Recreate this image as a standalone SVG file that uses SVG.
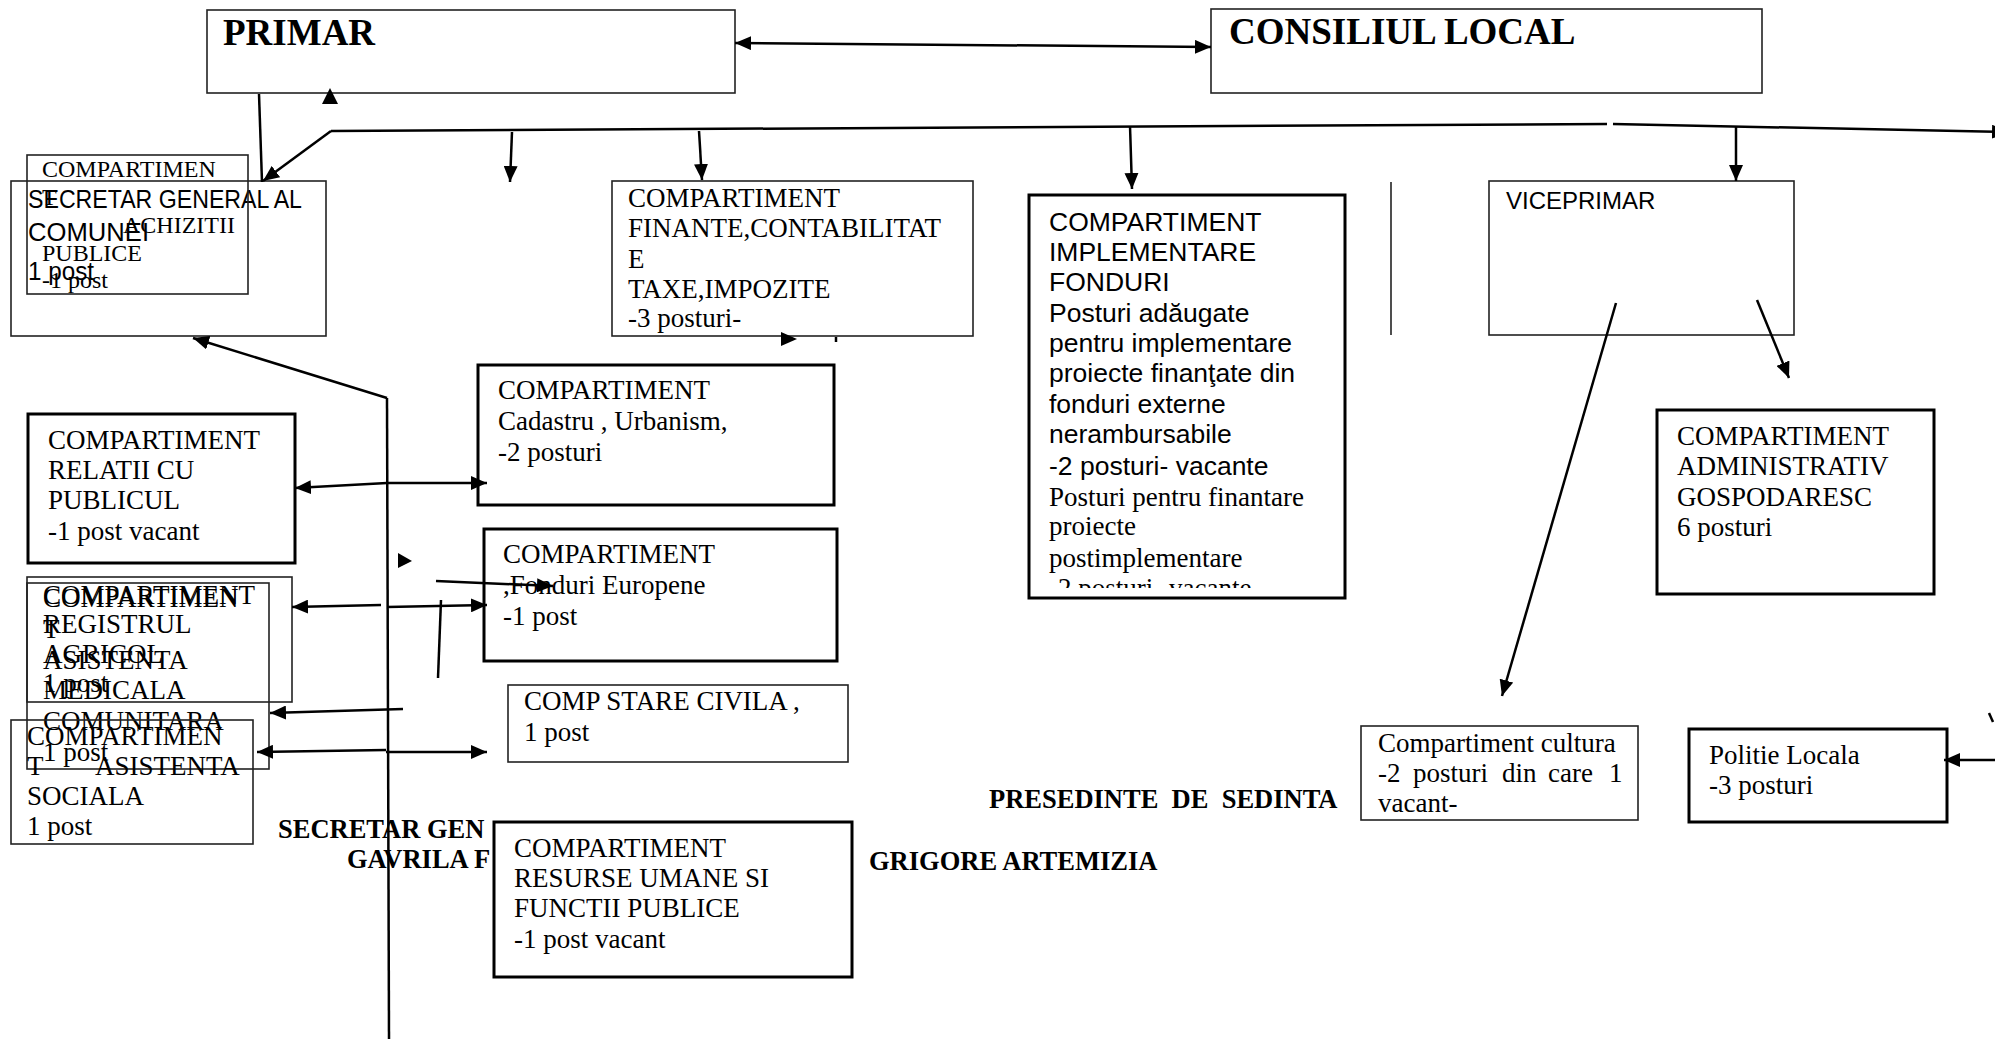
<svg xmlns="http://www.w3.org/2000/svg" width="1995" height="1039" viewBox="0 0 1995 1039">
<style>
.thin{fill:none;stroke:#222;stroke-width:1.6}
.thick{fill:none;stroke:#000;stroke-width:3}
.t{font-family:"Liberation Serif","Times New Roman",serif;font-size:27px;fill:#000}
.t24{font-family:"Liberation Serif","Times New Roman",serif;font-size:24px;fill:#000}
.s{font-family:"Liberation Sans",Arial,sans-serif;font-size:26.5px;fill:#000}
.s22{font-family:"Liberation Sans",Arial,sans-serif;font-size:23px;fill:#000}
.h{font-family:"Liberation Serif","Times New Roman",serif;font-size:37px;font-weight:bold;fill:#000}
.b{font-family:"Liberation Serif","Times New Roman",serif;font-size:26.5px;font-weight:bold;fill:#000}
.c{fill:none;stroke:#000;stroke-width:2.5}
.ah{fill:#000;stroke:none}
</style>
<defs>
<marker id="arr" markerUnits="userSpaceOnUse" markerWidth="16" markerHeight="14" refX="16" refY="7" orient="auto-start-reverse" viewBox="0 0 16 14">
<path d="M0,0 L16,7 L0,14 z" fill="#000"/>
</marker>
<clipPath id="clipImpl"><rect x="1029" y="195" width="316" height="393"/></clipPath>
</defs>

<g id="free-text">
<text class="b" x="278" y="838">SECRETAR GEN</text>
<text class="b" x="347" y="868">GAVRILA F</text>
<text class="b" x="989" y="808" xml:space="preserve">PRESEDINTE  DE  SEDINTA</text>
<text class="b" x="869" y="870">GRIGORE ARTEMIZIA</text>
</g>

<g id="primar">
<rect class="thin" x="207" y="10" width="528" height="83"/>
<text class="h" x="223" y="45">PRIMAR</text>
</g>
<g id="consiliul-local">
<rect class="thin" x="1211" y="9" width="551" height="84"/>
<text class="h" x="1229" y="44">CONSILIUL LOCAL</text>
</g>

<g id="secretar-general">
<rect class="thin" x="11" y="181" width="315" height="155"/>
<text class="s22" x="28" y="208" style="font-size:26px" textLength="274" lengthAdjust="spacingAndGlyphs">SECRETAR GENERAL AL</text>
<text class="s22" x="28" y="241" style="font-size:26px" textLength="121" lengthAdjust="spacingAndGlyphs">COMUNEI</text>
<text class="s22" x="28" y="280" style="font-size:26px" textLength="66" lengthAdjust="spacingAndGlyphs">1 post</text>
</g>
<g id="achizitii">
<rect class="thin" x="27" y="155" width="221" height="139"/>
<text class="t24" x="42" y="177">COMPARTIMEN</text>
<text class="t24" x="42" y="205">T</text>
<text class="t24" x="123" y="233">ACHIZITII</text>
<text class="t24" x="42" y="261">PUBLICE</text>
<text class="t24" x="42" y="288">-1 post</text>
</g>

<g id="finante">
<rect class="thin" x="612" y="181" width="361" height="155"/>
<text class="t" x="628" y="207">COMPARTIMENT</text>
<text class="t" x="628" y="237">FINANTE,CONTABILITAT</text>
<text class="t" x="628" y="268">E</text>
<text class="t" x="628" y="298">TAXE,IMPOZITE</text>
<text class="t" x="628" y="327">-3 posturi-</text>
</g>

<g id="implementare">
<rect class="thick" x="1029" y="195" width="316" height="403"/>
<g clip-path="url(#clipImpl)">
<text class="s" x="1049" y="231">COMPARTIMENT</text>
<text class="s" x="1049" y="261">IMPLEMENTARE</text>
<text class="s" x="1049" y="291">FONDURI</text>
<text class="s" x="1049" y="322">Posturi adăugate</text>
<text class="s" x="1049" y="352">pentru implementare</text>
<text class="s" x="1049" y="382">proiecte finanţate din</text>
<text class="s" x="1049" y="413">fonduri externe</text>
<text class="s" x="1049" y="443">nerambursabile</text>
<text class="s" x="1049" y="475">-2 posturi- vacante</text>
<text class="t" x="1049" y="506">Posturi pentru finantare</text>
<text class="t" x="1049" y="535">proiecte</text>
<text class="t" x="1049" y="567">postimplementare</text>
<text class="t" x="1049" y="597">-2 posturi- vacante</text>
</g>
</g>

<g id="viceprimar">
<rect class="thin" x="1489" y="181" width="305" height="154"/>
<text class="s22" x="1506" y="209" style="font-size:24px">VICEPRIMAR</text>
</g>

<g id="cadastru">
<rect class="thick" x="478" y="365" width="356" height="140"/>
<text class="t" x="498" y="399">COMPARTIMENT</text>
<text class="t" x="498" y="430">Cadastru , Urbanism,</text>
<text class="t" x="498" y="461">-2 posturi</text>
</g>

<g id="relatii-publicul">
<rect class="thick" x="28" y="414" width="267" height="149"/>
<text class="t" x="48" y="449">COMPARTIMENT</text>
<text class="t" x="48" y="479">RELATII CU</text>
<text class="t" x="48" y="509">PUBLICUL</text>
<text class="t" x="48" y="540">-1 post vacant</text>
</g>

<g id="fonduri-europene">
<rect class="thick" x="484" y="529" width="353" height="132"/>
<text class="t" x="503" y="563">COMPARTIMENT</text>
<text class="t" x="503" y="594">,Fonduri Europene</text>
<text class="t" x="503" y="625">-1 post</text>
</g>

<g id="stare-civila">
<rect class="thin" x="508" y="685" width="340" height="77"/>
<text class="t" x="524" y="710">COMP STARE CIVILA ,</text>
<text class="t" x="524" y="741">1 post</text>
</g>

<g id="registrul-agricol">
<rect class="thin" x="27" y="577" width="265" height="125"/>
<text class="t" x="43" y="604">COMPARTIMENT</text>
<text class="t" x="43" y="633">REGISTRUL</text>
<text class="t" x="43" y="663">AGRICOL</text>
<text class="t" x="43" y="692">1 post</text>
</g>

<g id="asistenta-medicala">
<rect class="thin" x="27" y="583" width="242" height="186"/>
<text class="t" x="43" y="607">COMPARTIMEN</text>
<text class="t" x="43" y="638">T</text>
<text class="t" x="43" y="669">ASISTENTA</text>
<text class="t" x="43" y="699">MEDICALA</text>
<text class="t" x="43" y="730">COMUNITARA</text>
<text class="t" x="43" y="761">1 post</text>
</g>

<g id="asistenta-sociala">
<rect class="thin" x="11" y="720" width="242" height="124"/>
<text class="t" x="27" y="745">COMPARTIMEN</text>
<text class="t" x="27" y="775">T</text>
<text class="t" x="95" y="775">ASISTENTA</text>
<text class="t" x="27" y="805">SOCIALA</text>
<text class="t" x="27" y="835">1 post</text>
</g>

<g id="resurse-umane">
<rect x="494" y="822" width="358" height="155" fill="#fff" stroke="#000" stroke-width="3"/>
<text class="t" x="514" y="857">COMPARTIMENT</text>
<text class="t" x="514" y="887">RESURSE UMANE SI</text>
<text class="t" x="514" y="917">FUNCTII PUBLICE</text>
<text class="t" x="514" y="948">-1 post vacant</text>
</g>

<g id="administrativ">
<rect class="thick" x="1657" y="410" width="277" height="184"/>
<text class="t" x="1677" y="445">COMPARTIMENT</text>
<text class="t" x="1677" y="475">ADMINISTRATIV</text>
<text class="t" x="1677" y="506">GOSPODARESC</text>
<text class="t" x="1677" y="536">6 posturi</text>
</g>

<g id="cultura">
<rect class="thin" x="1361" y="726" width="277" height="94"/>
<text class="t" x="1378" y="752">Compartiment cultura</text>
<text class="t" y="782"><tspan x="1378">-2</tspan><tspan x="1413">posturi</tspan><tspan x="1502">din</tspan><tspan x="1548">care</tspan><tspan x="1609">1</tspan></text>
<text class="t" x="1378" y="812">vacant-</text>
</g>

<g id="politie-locala">
<rect class="thick" x="1689" y="729" width="258" height="93"/>
<text class="t" x="1709" y="764">Politie Locala</text>
<text class="t" x="1709" y="794">-3 posturi</text>
</g>

<g id="connectors">
<path class="c" stroke-width="3" d="M735,43 L1211,47" marker-start="url(#arr)" marker-end="url(#arr)"/>
<polygon class="ah" points="322,104 330,88 338,104"/>
<path class="c" stroke-width="2" d="M259,94 L262,182"/>
<path class="c" d="M331,131 L1607,124"/>
<path class="c" d="M331,131 L263,181" marker-end="url(#arr)"/>
<path class="c" d="M1613,124 L2008,132" marker-end="url(#arr)"/>
<path class="c" d="M512,132 L510,182" marker-end="url(#arr)"/>
<path class="c" d="M699,131 L702,180" marker-end="url(#arr)"/>
<path class="c" d="M1130,126 L1132,189" marker-end="url(#arr)"/>
<path class="c" d="M1736,126 L1736,181" marker-end="url(#arr)"/>
<path class="thin" d="M1391,182 L1391,335"/>
<path class="c" d="M1616,303 L1502,696" marker-end="url(#arr)"/>
<path class="c" d="M1757,300 L1789,378" marker-end="url(#arr)"/>
<path class="c" d="M1995,760 L1944,760" marker-end="url(#arr)"/>
<path class="c" stroke-width="1.5" d="M1989,713 L1993,722"/>
<path class="c" d="M387,398 L389,1039"/>
<path class="c" d="M387,398 L193,338" marker-end="url(#arr)"/>
<path class="c" d="M295,488 L387,483 L487,483" marker-start="url(#arr)" marker-end="url(#arr)"/>
<path class="c" d="M381,605 L292,607" marker-end="url(#arr)"/>
<path class="c" d="M387,607 L487,605" marker-end="url(#arr)"/>
<polygon class="ah" points="398,553 412,561 398,568"/>
<path class="c" d="M436,581 L553,586" marker-end="url(#arr)"/>
<path class="c" d="M441,600 L438,678"/>
<path class="c" d="M403,709 L270,713" marker-end="url(#arr)"/>
<path class="c" d="M386,750 L257,752" marker-end="url(#arr)"/>
<path class="c" d="M386,752 L487,752" marker-end="url(#arr)"/>
<polygon class="ah" points="781,332 797,339 781,346"/>
<path class="c" stroke-width="1.5" d="M836,337 L836,342"/>
</g>
</svg>
